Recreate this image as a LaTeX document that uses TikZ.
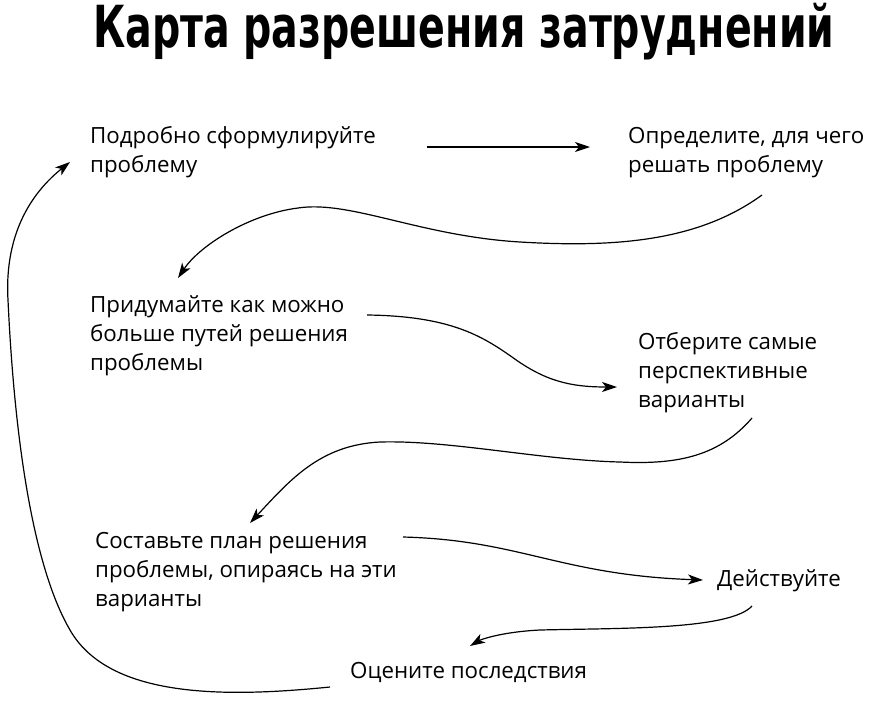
\documentclass[tikz,border=0pt]{standalone}
\usepackage{fontspec}
\setmainfont{Open Sans}
\newfontfamily\titlefont{DejaVu Sans Condensed Bold}[FakeStretch=0.757]
\usetikzlibrary{arrows.meta,calc}

\begin{document}
\begin{tikzpicture}[x=1pt,y=-1pt,>={Stealth[length=15pt,width=10pt,inset=4pt]},
    stage/.style={anchor=base west,align=left,inner sep=0pt,font=\fontsize{22.3}{29}\selectfont},
    link/.style={->,line width=1.2pt}]
      \useasboundingbox (0,0) rectangle (872,702);
      \node[anchor=base,inner sep=0pt,font=\titlefont\fontsize{58}{60}\selectfont] (title) at (464,47) {Карта разрешения затруднений};
      % steps of the map (placed at the baseline of their last line)
      \node[stage] (state) at (90,172) {Подробно сформулируйте\\проблему};
      \node[stage] (why) at (628,172) {Определите, для чего\\решать проблему};
      \node[stage] (ideas) at (90,370) {Придумайте как можно\\больше путей решения\\проблемы};
      \node[stage] (pick) at (638,407) {Отберите самые\\перспективные\\варианты};
      \node[stage] (plan) at (95,606) {Составьте план решения\\проблемы, опираясь на эти\\варианты};
      \node[stage] (act) at (717,586) {Действуйте};
      \node[stage] (judge) at (350,678) {Оцените последствия};
      % links
      \draw[link] ($(state.base west)+(337,-25)$) -- ($(why.base west)+(-38,-25)$);
      \draw[link] ($(why.base west)+(134,23)$) .. controls (700,240) and (620,248) .. (520,242)
            .. controls (420,236) and (350,200) .. (298,208)
            .. controls (250,214) and (200,245) .. ($(ideas.base west)+(88,-92)$);
      \draw[link] ($(ideas.base west)+(277,-55)$) .. controls (450,316) and (482,336) .. (512,357)
            .. controls (545,381) and (570,387) .. ($(pick.base west)+(-21,-20)$);
      \draw[link] ($(pick.base west)+(114,11)$) .. controls (720,455) and (680,465) .. (620,462)
            .. controls (540,460) and (450,440) .. (380,442)
            .. controls (320,445) and (290,480) .. ($(plan.base west)+(155,-83)$);
      \draw[link] ($(plan.base west)+(308,-69)$) .. controls (520,540) and (560,575) .. ($(act.base west)+(-14,-6)$);
      \draw[link] ($(act.base west)+(35,20)$) .. controls (730,630) and (620,628) .. (540,630)
            .. controls (500,632) and (480,640) .. ($(judge.base west)+(120,-32)$);
      \draw[link] ($(judge.base west)+(-20,9)$) .. controls (230,697) and (110,700) .. (70,630)
            .. controls (35,570) and (15,450) .. (8,300)
            .. controls (4,230) and (35,190) .. ($(state.base west)+(-20,-10)$);
\end{tikzpicture}
\end{document}
